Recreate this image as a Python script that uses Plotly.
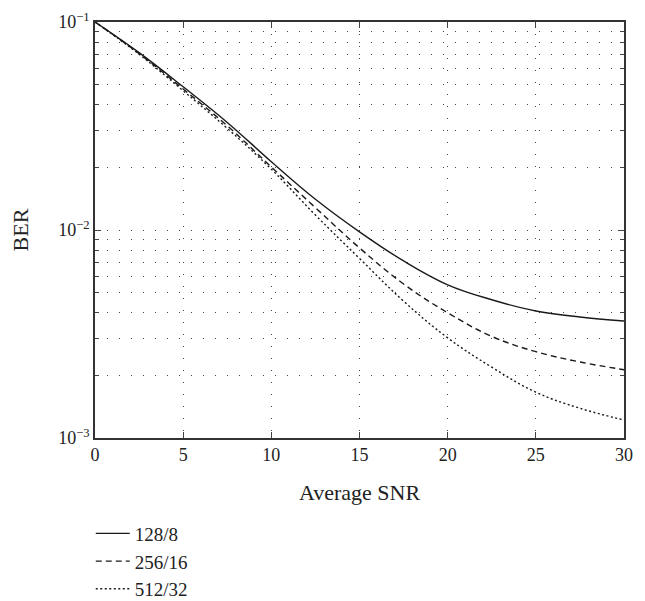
import plotly.graph_objects as go

snr = [0, 2.5, 5, 7.5, 10, 12.5, 15, 17.5, 20, 22.5, 25, 27.5, 30]
ber_128_8 = [0.1, 0.0712, 0.0488, 0.0329, 0.0213, 0.01406, 0.0098, 0.0071, 0.00545, 0.00462, 0.00408, 0.00382, 0.00365]
ber_256_16 = [0.1, 0.0705, 0.0476, 0.0317, 0.0201, 0.0128, 0.0082, 0.0055, 0.0040, 0.00308, 0.0026, 0.00232, 0.00213]
ber_512_32 = [0.1, 0.0700, 0.0467, 0.0308, 0.0196, 0.0118, 0.0073, 0.00455, 0.00303, 0.00219, 0.00166, 0.00139, 0.00122]

series_names = ["128/8", "256/16", "512/32"]
x_ticks = [0, 5, 10, 15, 20, 25, 30]
y_ticks = [1e-3, 1e-2, 1e-1]
y_ticktext = ["10<sup>−3</sup>", "10<sup>−2</sup>", "10<sup>−1</sup>"]
y_minor = [m * 10 ** e for e in (-3, -2) for m in range(2, 10)]

FONT = "Liberation Serif"
W, H = 637, 593
fig = go.Figure()
styles = ["solid", "6px,4px", "2px,2.5px"]
for name, ys, dash in zip(series_names, [ber_128_8, ber_256_16, ber_512_32], styles):
    fig.add_trace(go.Scatter(
        x=snr, y=ys, mode="lines", name=name, line_shape="spline",
        line=dict(color="#1a1a1a", width=1.4, dash=dash, smoothing=1.1),
    ))

grid = dict(showgrid=True, gridcolor="#444", gridwidth=1, griddash="1px,11px")
fig.update_layout(
    width=W, height=H,
    margin=dict(l=87, r=21, t=14, b=163, autoexpand=False),
    paper_bgcolor="white", plot_bgcolor="white",
    font=dict(family=FONT, size=18, color="#222"),
    showlegend=True,
    legend=dict(x=-0.008, y=-0.184, xanchor="left", yanchor="top",
                font=dict(family=FONT, size=19, color="#222"),
                bgcolor="rgba(0,0,0,0)", tracegroupgap=0, itemwidth=34),
    xaxis=dict(range=[0, 30], tickvals=x_ticks, ticks="inside", ticklen=6,
               showline=True, linecolor="#333", linewidth=1.5, mirror="ticks",
               zeroline=False, title=dict(text="Average SNR", standoff=20),
               tickfont=dict(size=18), **grid),
    yaxis=dict(type="log", range=[-3, -1], tickvals=y_ticks, ticktext=y_ticktext,
               ticks="inside", ticklen=6, showline=True, linecolor="#333",
               linewidth=1.5, mirror="ticks", zeroline=False,
               title=dict(text="BER", standoff=29), tickfont=dict(size=18),
               minor=dict(tickvals=y_minor, ticks="inside", ticklen=4,
                          showgrid=True, gridcolor="#444", gridwidth=1,
                          griddash="1px,11px"),
               **grid),
)
fig.write_html("out.html")
